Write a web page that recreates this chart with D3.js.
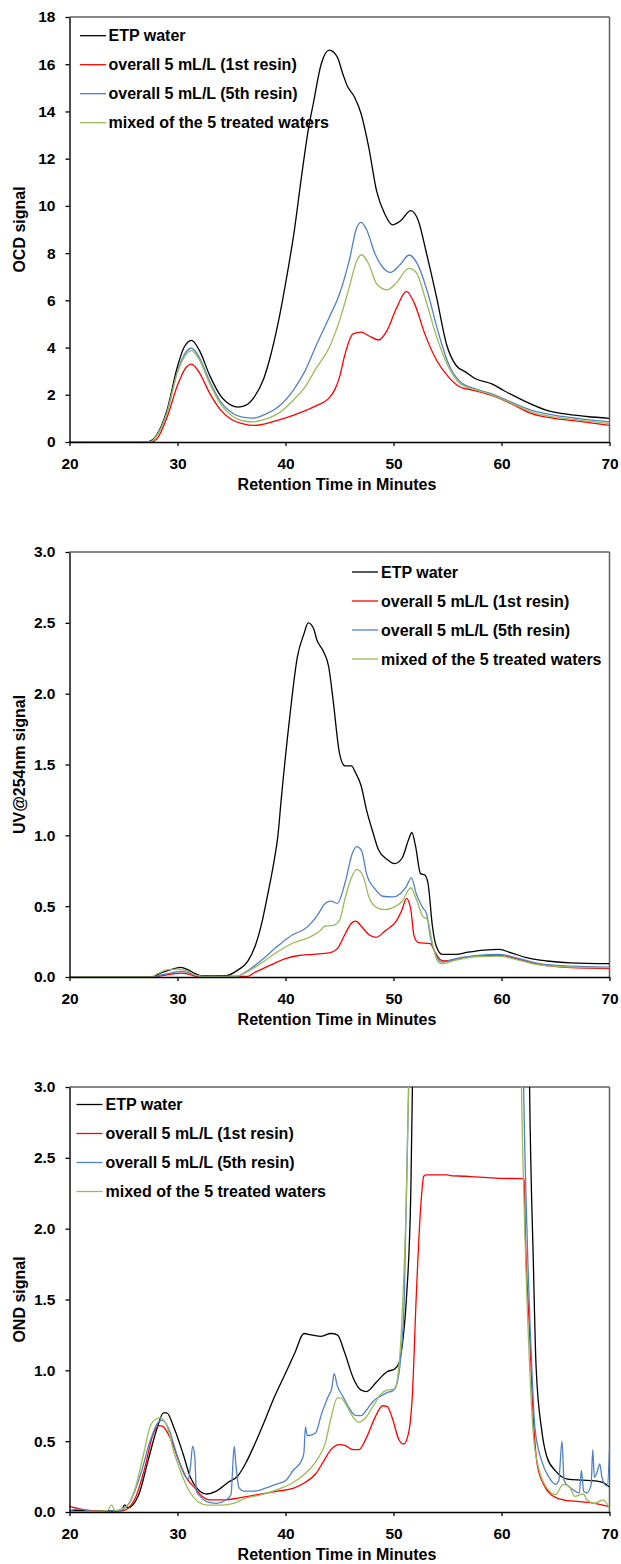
<!DOCTYPE html>
<html>
<head>
<meta charset="utf-8">
<script src="https://cdn.jsdelivr.net/npm/d3@7"></script>
<style>
  body { margin: 0; background: #fff; }
  svg text { font-family: "Liberation Sans", Arial, sans-serif; font-weight: bold; fill: #000; }
</style>
</head>
<body>
<svg id="chart" width="621" height="1564"></svg>
<script>
// series names (legend order)
const seriesNames = ["ETP water", "overall 5 mL/L (1st resin)", "overall 5 mL/L (5th resin)", "mixed of the 5 treated waters"];
const seriesColors = ["#000000", "#ff0000", "#4f81c9", "#9bbb59"];
const xTicks = [20, 30, 40, 50, 60, 70];

// OCD signal  [minutes, value]
const ocdEtp = [[20,0.02],[27.3,0.02],[28,0.25],[29,1.3],[30,3.2],[30.6,4.0],[31.3,4.3],[32,3.9],[33,2.8],[34,1.95],[35,1.55],[35.6,1.48],[36.3,1.55],[37.1,1.9],[38,2.7],[38.5,3.45],[39.3,5.0],[40,6.7],[40.8,8.9],[41.5,11.3],[42.1,13.2],[42.6,14.4],[43.3,16.0],[44.05,16.6],[44.8,16.3],[45.3,15.6],[45.7,15.1],[46.4,14.6],[47,13.9],[47.7,12.5],[48.45,10.6],[49.2,9.65],[49.9,9.2],[50.65,9.37],[51.6,9.8],[52.3,9.37],[53,8.1],[54,6.1],[54.9,4.15],[55.8,3.24],[56.7,2.96],[57.6,2.68],[59.1,2.46],[60.2,2.18],[62,1.76],[64.2,1.34],[65.7,1.2],[67.9,1.08],[70,1.0]];
const ocdRed = [[20,0.0],[27.6,0.0],[28.2,0.2],[29,1.0],[30,2.4],[30.7,3.1],[31.3,3.3],[32,2.95],[33,2.05],[34,1.35],[35,0.95],[36,0.78],[37.1,0.7],[38,0.76],[39,0.88],[40,1.02],[41,1.18],[42,1.36],[43,1.57],[44,1.85],[44.6,2.25],[45,2.75],[45.5,3.7],[46.25,4.58],[47,4.65],[47.7,4.5],[48.6,4.32],[49.4,4.72],[50.3,5.7],[51.2,6.38],[51.95,5.85],[52.9,4.58],[54,3.45],[55.1,2.75],[56.2,2.32],[57.3,2.2],[59.1,1.97],[60.9,1.62],[62.8,1.2],[65,0.99],[67.2,0.87],[70,0.7]];
const ocdBlue = [[20,0.0],[27.4,0.0],[28,0.22],[29,1.2],[30,3.0],[30.7,3.75],[31.3,3.97],[32,3.6],[33,2.55],[34,1.7],[35,1.25],[36,1.05],[37,1.01],[38,1.15],[39.3,1.48],[40.7,2.18],[41.8,3.0],[42.9,4.15],[44.05,5.28],[45,6.27],[45.9,7.68],[46.6,9.08],[47,9.3],[47.5,9.0],[48.3,7.96],[49,7.4],[49.7,7.18],[50.65,7.53],[51.45,7.92],[52.3,7.46],[53.2,6.27],[54.1,4.72],[55.1,3.3],[56.2,2.54],[57.6,2.25],[59.1,2.04],[60.9,1.69],[62.8,1.34],[65,1.13],[67.2,0.99],[70,0.85]];
const ocdGreen = [[20,0.0],[27.4,0.0],[28,0.22],[29,1.2],[30,2.95],[30.7,3.65],[31.3,3.87],[32,3.5],[33,2.45],[34,1.6],[35,1.12],[36,0.9],[37,0.85],[38,0.95],[39.3,1.2],[40.7,1.76],[41.8,2.32],[42.9,3.17],[44.05,4.0],[45,5.14],[45.9,6.55],[46.6,7.68],[47.05,7.93],[47.7,7.54],[48.45,6.69],[49.4,6.44],[50.3,6.76],[51.4,7.35],[52.1,7.18],[53,5.99],[54,4.44],[55.1,3.17],[56.2,2.46],[57.6,2.21],[59.1,2.0],[60.9,1.65],[62.8,1.27],[65,1.05],[67.2,0.93],[70,0.78]];
const ocdTicks = [0, 2, 4, 6, 8, 10, 12, 14, 16, 18];

// UV@254nm signal
const uvEtp = [[20,0],[27.6,0],[28.5,0.03],[29.3,0.05],[30.3,0.068],[31,0.05],[31.6,0.025],[32.2,0.008],[34.5,0.01],[35.6,0.05],[36.5,0.11],[37.2,0.22],[37.8,0.38],[38.4,0.6],[38.9,0.8],[39.3,1.0],[39.6,1.25],[40.4,1.84],[41.1,2.26],[41.7,2.42],[42.1,2.5],[42.6,2.46],[42.9,2.38],[43.5,2.3],[44,2.19],[44.4,1.96],[45,1.58],[45.5,1.49],[46.1,1.49],[46.5,1.44],[47,1.35],[47.5,1.18],[48.1,1.02],[48.6,0.9],[49.4,0.83],[50.1,0.8],[50.8,0.84],[51.4,0.97],[51.7,1.02],[52.05,0.92],[52.5,0.73],[52.9,0.72],[53.2,0.66],[53.6,0.36],[53.95,0.22],[54.5,0.16],[55.8,0.16],[56.9,0.175],[58.4,0.19],[59.8,0.195],[60.9,0.17],[62.4,0.135],[64.2,0.113],[66.4,0.1],[70,0.094]];
const uvRed = [[20,0],[27.8,0],[28.6,0.01],[29.5,0.02],[30.3,0.028],[31,0.02],[31.8,0.005],[36.5,0.005],[37.1,0.03],[38.5,0.08],[40,0.13],[41.1,0.15],[42.6,0.16],[44.05,0.17],[44.8,0.2],[45.5,0.3],[46.1,0.38],[46.5,0.394],[47,0.36],[47.7,0.3],[48.4,0.28],[49.2,0.324],[50.3,0.4],[50.8,0.477],[51.2,0.555],[51.6,0.477],[51.9,0.29],[52.3,0.242],[53.4,0.235],[53.8,0.183],[54.3,0.124],[54.7,0.113],[55.8,0.124],[57.6,0.148],[59.8,0.153],[61.3,0.13],[63.5,0.09],[66.4,0.066],[70,0.059]];
const uvBlue = [[20,0],[27.8,0],[28.5,0.015],[29.5,0.03],[30.3,0.04],[31,0.03],[31.8,0.01],[32.5,0.003],[35.5,0.005],[36.3,0.035],[37.8,0.12],[39.3,0.22],[40.7,0.3],[41.8,0.34],[42.9,0.43],[43.7,0.52],[44.2,0.535],[44.8,0.52],[45.5,0.66],[46.2,0.875],[46.6,0.92],[47.05,0.89],[47.5,0.73],[48.3,0.62],[49,0.57],[49.9,0.565],[50.65,0.59],[51.2,0.64],[51.65,0.7],[52.1,0.59],[52.7,0.49],[53.05,0.45],[53.4,0.29],[53.95,0.15],[54.5,0.105],[55.8,0.13],[57.6,0.15],[59.8,0.16],[61.3,0.136],[63.5,0.094],[66.4,0.077],[70,0.07]];
const uvGreen = [[20,0],[27.5,0],[28.2,0.025],[29,0.05],[30,0.055],[30.8,0.045],[31.6,0.015],[32.3,0.003],[35.5,0.004],[36.3,0.03],[37.8,0.1],[39.3,0.18],[40.7,0.24],[42.2,0.28],[43.1,0.32],[43.7,0.36],[44.4,0.365],[45,0.4],[45.5,0.55],[46.1,0.7],[46.6,0.76],[47.2,0.71],[47.7,0.57],[48.45,0.49],[49.2,0.475],[50.1,0.495],[50.8,0.535],[51.6,0.63],[52.1,0.55],[52.7,0.43],[53.15,0.405],[53.6,0.24],[54.1,0.11],[54.5,0.095],[55.8,0.12],[57.6,0.143],[59.8,0.148],[61.3,0.124],[63.5,0.085],[66.4,0.07],[70,0.066]];
const uvTicks = [0, 0.5, 1, 1.5, 2, 2.5, 3];

// OND signal (values above 3.0 run off the top of the plot)
const ondEtp = [[20,0.01],[24.8,0.01],[25.1,0.05],[25.4,0.03],[26.4,0.12],[27.3,0.37],[28.1,0.59],[28.7,0.7],[29,0.7],[29.7,0.59],[30.5,0.415],[31.2,0.244],[31.9,0.16],[32.7,0.127],[33.6,0.147],[34.7,0.21],[35.6,0.256],[36.3,0.342],[37.1,0.47],[38,0.63],[38.9,0.8],[40,0.98],[40.9,1.13],[41.7,1.26],[42.4,1.25],[43.3,1.24],[44.2,1.26],[44.8,1.25],[45.5,1.12],[46.25,0.95],[47,0.86],[47.5,0.85],[48.45,0.92],[49.4,0.99],[50.1,1.01],[50.5,1.05],[50.8,1.17],[51.2,1.51],[51.6,2.25],[51.75,3.0],[52,4.5],[62.4,4.5],[62.6,3.0],[62.95,1.76],[63.2,1.03],[63.7,0.59],[64.2,0.39],[65,0.29],[66.1,0.232],[67.5,0.225],[68.6,0.22],[69.4,0.208],[70,0.176]];
const ondRed = [[20,0.04],[20.5,0.03],[21,0.02],[22,0.01],[24,0.005],[25,0.01],[26.1,0.1],[27,0.32],[27.7,0.54],[28.3,0.61],[28.6,0.606],[29.4,0.51],[30.1,0.366],[30.8,0.244],[31.6,0.17],[32.3,0.11],[33,0.086],[34.5,0.086],[35.6,0.098],[37.4,0.122],[39.3,0.147],[40.7,0.166],[41.8,0.208],[42.8,0.27],[43.5,0.354],[44.2,0.44],[45,0.476],[45.5,0.47],[46.25,0.44],[46.8,0.44],[47.5,0.525],[48.3,0.67],[49,0.75],[49.4,0.745],[49.9,0.66],[50.5,0.51],[50.95,0.48],[51.4,0.56],[51.75,0.83],[52.1,1.51],[52.5,2.13],[52.8,2.37],[53,2.38],[55.05,2.38],[55.2,2.375],[56.7,2.37],[57.6,2.365],[58.7,2.36],[59.8,2.355],[62.1,2.353],[62.2,2.0],[62.6,1.27],[62.95,0.66],[63.3,0.34],[63.9,0.195],[64.6,0.122],[65.7,0.086],[67.2,0.073],[68.6,0.061],[70,0.037]];
const ondBlue = [[20,0.01],[21,0.02],[22,0.005],[24.6,0.01],[25.7,0.086],[26.6,0.27],[27.5,0.51],[28.3,0.64],[28.6,0.647],[29.2,0.586],[29.9,0.415],[30.6,0.27],[31,0.23],[31.2,0.32],[31.4,0.464],[31.6,0.39],[31.75,0.147],[32.1,0.11],[32.7,0.073],[33.6,0.061],[34.5,0.086],[34.95,0.122],[35.25,0.464],[35.4,0.34],[35.7,0.17],[36.15,0.147],[37.1,0.147],[38.2,0.17],[39.3,0.2],[40,0.22],[40.7,0.293],[41.5,0.366],[41.7,0.415],[41.85,0.6],[42,0.54],[42.2,0.54],[42.8,0.56],[43.3,0.684],[43.9,0.806],[44.3,0.88],[44.5,0.977],[44.8,0.89],[45.3,0.818],[45.9,0.733],[46.4,0.684],[47,0.68],[47.5,0.72],[48.1,0.78],[48.8,0.818],[49.4,0.843],[49.9,0.855],[50.3,0.904],[50.65,1.075],[51,1.51],[51.4,3.0],[51.7,4.5],[61.8,4.5],[62.05,3.0],[62.4,1.88],[62.8,1.03],[63.1,0.59],[63.7,0.366],[64.4,0.244],[65,0.195],[65.3,0.22],[65.6,0.5],[65.8,0.22],[66.4,0.17],[67.2,0.134],[67.4,0.293],[67.6,0.147],[67.9,0.134],[68.3,0.195],[68.45,0.44],[68.6,0.244],[68.9,0.293],[69.1,0.34],[69.3,0.244],[69.55,0.195],[69.8,0.183],[70,0.44]];
const ondGreen = [[20,0.0],[23.5,0.01],[23.9,0.05],[24.2,0.01],[25.3,0.04],[26.1,0.17],[26.8,0.39],[27.5,0.61],[28.1,0.66],[28.4,0.665],[29,0.61],[29.7,0.415],[30.5,0.244],[31.2,0.134],[31.9,0.073],[32.8,0.049],[34.1,0.049],[35.2,0.061],[36.3,0.098],[37.8,0.122],[39.3,0.159],[40.7,0.208],[41.8,0.27],[42.9,0.366],[43.7,0.49],[44.2,0.66],[44.8,0.806],[45.1,0.806],[45.7,0.745],[46.25,0.67],[46.8,0.635],[47.35,0.66],[48.1,0.745],[48.8,0.83],[49.4,0.86],[50.1,0.867],[50.5,1.026],[50.8,1.39],[51.2,2.25],[51.4,3.0],[51.7,4.5],[61.6,4.5],[61.85,3.0],[62.2,1.88],[62.6,1.03],[62.95,0.54],[63.5,0.293],[64.2,0.17],[65,0.122],[65.7,0.195],[66.25,0.183],[66.8,0.11],[67.6,0.127],[67.9,0.086],[68.6,0.061],[69.4,0.086],[70,0.024]];

const margin = {left: 69.5, right: 609.5};
const plotH = 425;

const panels = [
	{top: 17, yMax: 18, ticks: ocdTicks, fmt: d3.format("d"), title: "OCD signal",
	 series: [ocdEtp, ocdRed, ocdBlue, ocdGreen], legend: {x0: 80, x1: 106, tx: 108.5, y: 18.7}},
	{top: 552, yMax: 3, ticks: uvTicks, fmt: d3.format(".1f"), title: "UV@254nm signal",
	 series: [uvEtp, uvRed, uvBlue, uvGreen], legend: {x0: 352, x1: 378, tx: 381, y: 20}},
	{top: 1087, yMax: 3, ticks: uvTicks, fmt: d3.format(".1f"), title: "OND signal",
	 series: [ondEtp, ondRed, ondBlue, ondGreen], legend: {x0: 76.5, x1: 102.5, tx: 105.5, y: 17.5}}
];

const svg = d3.select('#chart');
const x = d3.scaleLinear().domain([20, 70]).range([margin.left, margin.right]);

panels.forEach(function(p, idx){
	const bottom = p.top + plotH;
	const y = d3.scaleLinear().domain([0, p.yMax]).range([bottom, p.top]);
	const g = svg.append('g').attr('class', 'panel');

	// clip so that off-scale peaks are cut at the top
	g.append('clipPath').attr('id', 'clip' + idx)
		.append('rect')
		.attr('x', margin.left).attr('y', p.top)
		.attr('width', margin.right - margin.left).attr('height', plotH);

	// plot frame (gray top and right)
	g.append('line').attr('x1', margin.left).attr('x2', margin.right).attr('y1', p.top).attr('y2', p.top)
		.attr('stroke', '#5f5f5f').attr('stroke-width', 1.5);
	g.append('line').attr('x1', margin.right).attr('x2', margin.right).attr('y1', p.top).attr('y2', bottom)
		.attr('stroke', '#5f5f5f').attr('stroke-width', 1.5);

	// lines
	const line = d3.line()
		.x(function(d){ return x(d[0]); })
		.y(function(d){ return y(d[1]); })
		.curve(d3.curveMonotoneX);
	const lg = g.append('g').attr('clip-path', 'url(#clip' + idx + ')');
	p.series.forEach(function(s, i){
		lg.append('path').datum(s)
			.attr('fill', 'none')
			.attr('stroke', seriesColors[i])
			.attr('stroke-width', 1.3)
			.attr('stroke-linejoin', 'round')
			.attr('d', line);
	});

	// axes
	const yAxis = d3.axisLeft(y).tickValues(p.ticks).tickFormat(p.fmt).tickSizeInner(4).tickSizeOuter(0).tickPadding(10);
	const yG = g.append('g').attr('transform', 'translate(' + margin.left + ',0)').call(yAxis);
	const xAxis = d3.axisBottom(x).tickValues(xTicks).tickFormat(d3.format("d")).tickSizeInner(4).tickSizeOuter(0).tickPadding(12);
	const xG = g.append('g').attr('transform', 'translate(0,' + bottom + ')').call(xAxis);
	[yG, xG].forEach(function(a){
		a.attr('font-family', null).attr('font-size', null);
		a.select('.domain').attr('stroke', '#000').attr('stroke-width', 1.4);
		a.selectAll('.tick line').attr('stroke', '#000').attr('stroke-width', 1.3);
		a.selectAll('.tick text').style('font-size', '15.5px');
	});

	// axis titles
	g.append('text')
		.attr('transform', 'translate(19,' + (p.top + plotH / 2) + ') rotate(-90)')
		.attr('text-anchor', 'middle').attr('dy', '0.35em')
		.style('font-size', '16px')
		.text(p.title);
	g.append('text')
		.attr('x', 337).attr('y', bottom + 42)
		.attr('text-anchor', 'middle').attr('dy', '0.35em')
		.style('font-size', '16px')
		.text("Retention Time in Minutes");

	// legend
	const leg = g.append('g').attr('transform', 'translate(0,' + (p.top + p.legend.y) + ')');
	seriesNames.forEach(function(n, i){
		leg.append('line')
			.attr('x1', p.legend.x0).attr('x2', p.legend.x1)
			.attr('y1', i * 29).attr('y2', i * 29)
			.attr('stroke', seriesColors[i]).attr('stroke-width', 1.3);
		leg.append('text')
			.attr('x', p.legend.tx).attr('y', i * 29).attr('dy', '0.35em')
			.style('font-size', '16px')
			.text(n);
	});
});
</script>
</body>
</html>
